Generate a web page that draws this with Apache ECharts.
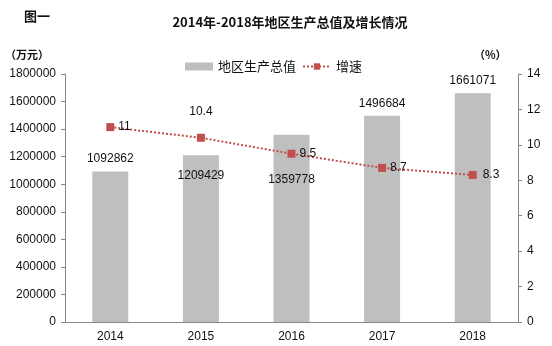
<!DOCTYPE html>
<html><head><meta charset="utf-8">
<script src="https://cdn.jsdelivr.net/npm/echarts@6/dist/echarts.min.js"></script>
<style>html,body{margin:0;padding:0;background:#fff}#c{width:552px;height:346px}</style>
</head><body><div id="c"></div>
<script>
const years = ['2014','2015','2016','2017','2018'];
const gdp = [1092862, 1209429, 1359778, 1496684, 1661071];
const growth = [11, 10.4, 9.5, 8.7, 8.3];
const leftTicks = [0, 1800000, 200000];
const rightTicks = [0, 14, 2];

const font = '"Liberation Sans", "Noto Sans CJK SC", sans-serif';
const cjk = '"Noto Sans CJK SC", sans-serif';
const chart = echarts.init(document.getElementById('c'));
const barLabelPos = [
  {position:'top', distance:7},
  {position:'insideTop', distance:14},
  {position:'insideTop', distance:39},
  {position:'top', distance:6},
  {position:'top', distance:6}
];
const lineLabelPos = [
  {position:'right', distance:4},
  {position:'top', distance:16},
  {position:'right', distance:4},
  {position:'right', distance:4},
  {position:'right', distance:6}
];
chart.setOption({
  animation:false,
  title:[
    {text:'2014年-2018年地区生产总值及增长情况', left:285, top:11, textAlign:'center',
     textStyle:{fontFamily:cjk, fontSize:13, fontWeight:'bold', color:'#111'}},
    {text:'图一', left:19, top:5, textStyle:{fontFamily:cjk, fontSize:13, fontWeight:'bold', color:'#111'}},
    {text:'（万元）', left:0, top:44, textStyle:{fontFamily:cjk, fontSize:11, fontWeight:'bold', color:'#111'}},
    {text:'（%）', left:469, top:44, textStyle:{fontFamily:cjk, fontSize:11, fontWeight:'bold', color:'#111'}}
  ],
  legend:{
    top:55, left:180, itemGap:6, itemWidth:28, itemHeight:8,
    textStyle:{fontFamily:cjk, fontSize:13, color:'#111'},
    data:[{name:'地区生产总值', icon:'rect'}, {name:'增速'}]
  },
  grid:{left:65, right:34, top:74, bottom:24},
  xAxis:{
    type:'category', data:years,
    axisLine:{lineStyle:{color:'#868686'}},
    axisTick:{show:false},
    axisLabel:{fontFamily:font, fontSize:12, color:'#111', margin:9}
  },
  yAxis:[
    {type:'value', min:leftTicks[0], max:leftTicks[1], interval:leftTicks[2],
     splitLine:{show:false},
     axisLine:{show:true, lineStyle:{color:'#868686'}},
     axisTick:{show:true, length:4, lineStyle:{color:'#868686'}},
     axisLabel:{fontFamily:font, fontSize:12, color:'#111', margin:9, formatter:v=>String(v)}},
    {type:'value', min:rightTicks[0], max:rightTicks[1], interval:rightTicks[2],
     splitLine:{show:false},
     axisLine:{show:true, lineStyle:{color:'#868686'}},
     axisTick:{show:true, length:4, lineStyle:{color:'#868686'}},
     axisLabel:{fontFamily:font, fontSize:12, color:'#111', margin:9, formatter:v=>String(v)}}
  ],
  series:[
    {name:'地区生产总值', type:'bar', barWidth:36,
     itemStyle:{color:'#BFBFBF'},
     data: gdp.map((v,i)=>({value:v, label:Object.assign({show:true, fontFamily:font, fontSize:12, color:'#111'}, barLabelPos[i])}))},
    {name:'增速', type:'line', yAxisIndex:1, symbol:'rect', symbolSize:8,
     itemStyle:{color:'#C0504D'},
     lineStyle:{color:'#C0504D', width:2, type:[2,2]},
     data: growth.map((v,i)=>({value:v, label:Object.assign({show:true, fontFamily:font, fontSize:12, color:'#111'}, lineLabelPos[i])}))}
  ]
});
</script></body></html>
